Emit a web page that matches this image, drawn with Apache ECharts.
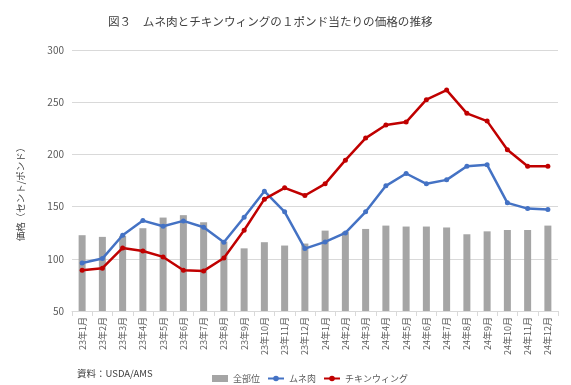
<!DOCTYPE html>
<html><head><meta charset="utf-8">
<script src="https://cdn.jsdelivr.net/npm/echarts@6/dist/echarts.min.js"></script>
<style>html,body{margin:0;padding:0;background:#fff}#c{width:571px;height:385px}</style>
</head><body><div id="c"></div>
<script>
const categories = ['23年1月','23年2月','23年3月','23年4月','23年5月','23年6月','23年7月','23年8月','23年9月','23年10月','23年11月','23年12月',
 '24年1月','24年2月','24年3月','24年4月','24年5月','24年6月','24年7月','24年8月','24年9月','24年10月','24年11月','24年12月'];
const allParts = [122.6,121,122,129.3,139.5,141.8,135,116.5,110,115.9,112.7,114.6,127,125.8,128.6,131.8,130.9,130.9,130,123.5,126.3,127.6,127.6,131.8];
const breast = [96,100.2,122.6,136.6,131.2,136.3,130.2,115.9,139.8,164.8,145,109.8,116.2,124.8,145,169.9,181.7,171.8,175.6,188.7,190,153.6,148.1,147.2];
const wing = [89,91,110.4,107.5,101.8,89,88.4,100.8,127.4,157.1,168,160.6,171.8,194.5,215.6,228.1,231,252.4,261.6,239.3,231.9,204.4,188.7,188.7];
const yTicks = {min:50, max:300, interval:50};

const font = '"Noto Sans CJK JP", sans-serif';
const chart = echarts.init(document.getElementById('c'));
chart.setOption({
  animation:false,
  textStyle:{fontFamily:font},
  title:{text:'図３　ムネ肉とチキンウィングの１ポンド当たりの価格の推移', left:103, top:11,
    textStyle:{fontSize:11.6, fontWeight:'normal', color:'#404040', fontFamily:font}},
  grid:{left:72, right:13, top:50, bottom:74},
  legend:{left:207, top:369, itemGap:7, itemWidth:16, itemHeight:7,
    textStyle:{fontSize:9, color:'#595959', fontFamily:font},
    data:[{name:'全部位', icon:'rect'},{name:'ムネ肉'},{name:'チキンウィング'}]},
  graphic:[
    {type:'text', left:77, top:369, style:{text:'資料：USDA/AMS', fontSize:9.5, fill:'#404040', fontFamily:font}},
    {type:'text', x:20, y:192, rotation:Math.PI/2, style:{text:'価格（セント/ポンド）', fontSize:9.5, fill:'#404040', fontFamily:font, align:'center', verticalAlign:'middle'}}
  ],
  xAxis:{type:'category', data:categories, boundaryGap:true,
    axisLine:{lineStyle:{color:'#d9d9d9'}},
    axisTick:{show:true, alignWithLabel:false, length:5, lineStyle:{color:'#d9d9d9'}},
    axisLabel:{rotate:90, fontSize:9, color:'#595959', interval:0, margin:6}},
  yAxis:{type:'value', min:yTicks.min, max:yTicks.max, interval:yTicks.interval,
    axisLine:{show:false}, axisTick:{show:false},
    axisLabel:{fontSize:10, color:'#595959', margin:8},
    splitLine:{lineStyle:{color:'#d9d9d9'}}},
  series:[
    {name:'全部位', type:'bar', data:allParts, barWidth:7, itemStyle:{color:'#A5A5A5'}},
    {name:'ムネ肉', type:'line', data:breast, symbol:'circle', symbolSize:5,
      lineStyle:{color:'#4472C4', width:2.5}, itemStyle:{color:'#4472C4'}},
    {name:'チキンウィング', type:'line', data:wing, symbol:'circle', symbolSize:5,
      lineStyle:{color:'#C00000', width:2.5}, itemStyle:{color:'#C00000'}}
  ]
});
</script></body></html>
